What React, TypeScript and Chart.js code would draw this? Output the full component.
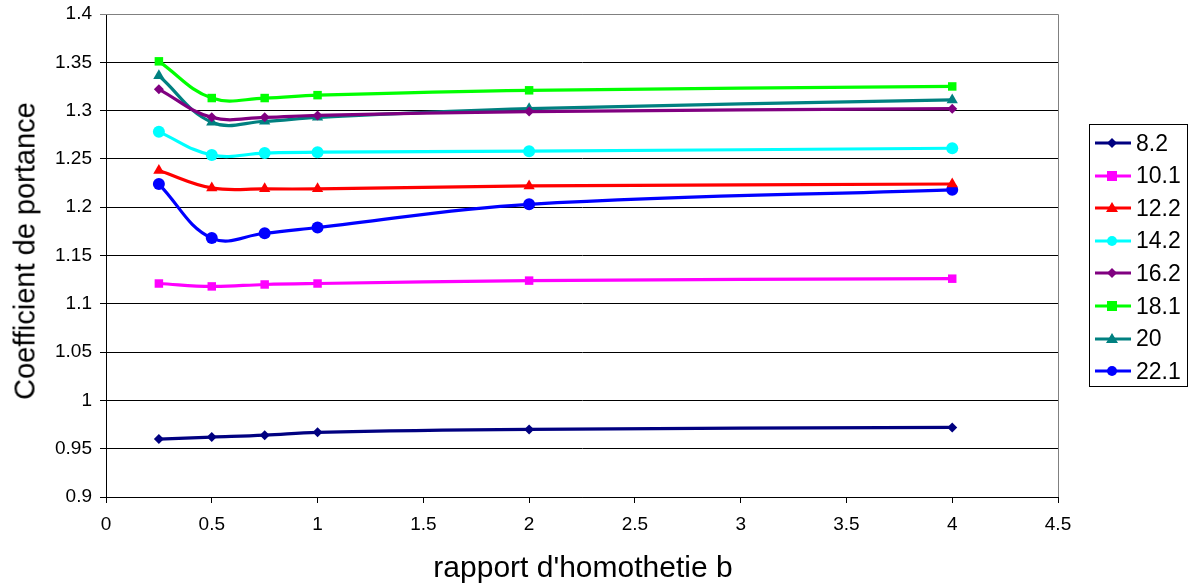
import React, { useEffect, useRef } from "react";
import { Chart, registerables } from "chart.js";

Chart.register(...registerables);

// Homothety ratio b (x values shared by every series)
const ratios = [0.25, 0.5, 0.75, 1, 2, 4];

// Lift coefficient per angle of attack
const seriesNames = ["8.2", "10.1", "12.2", "14.2", "16.2", "18.1", "20", "22.1"];
const s82 = [0.96, 0.962, 0.964, 0.967, 0.97, 0.972];
const s101 = [1.121, 1.118, 1.12, 1.121, 1.124, 1.126];
const s122 = [1.238, 1.22, 1.219, 1.219, 1.222, 1.224];
const s142 = [1.278, 1.254, 1.256, 1.257, 1.258, 1.261];
const s162 = [1.322, 1.293, 1.293, 1.295, 1.299, 1.302];
const s181 = [1.351, 1.313, 1.313, 1.316, 1.321, 1.325];
const s20 = [1.336, 1.288, 1.289, 1.293, 1.302, 1.311];
const s221 = [1.224, 1.168, 1.173, 1.179, 1.203, 1.218];

const seriesValues = [s82, s101, s122, s142, s162, s181, s20, s221];
const seriesColors = ["#000080", "#FF00FF", "#FF0000", "#00FFFF", "#800080", "#00FF00", "#008080", "#0000FF"];
const seriesMarkers = ["rectRot", "rect", "triangle", "circle", "rectRot", "rect", "triangle", "circle"];
const markerRadius: Record<string, number> = { rectRot: 5, rect: 6, triangle: 6.5, circle: 6 };

const FONT = "'Liberation Sans', Arial, Helvetica, sans-serif";

const fmt = (v: number) => String(parseFloat(Number(v).toFixed(2)));

const plotFrame = {
  id: "plotFrame",
  afterDraw(chart: any) {
    const { ctx, chartArea: a } = chart;
    ctx.save();
    ctx.strokeStyle = "#808080";
    ctx.lineWidth = 1;
    ctx.beginPath();
    ctx.moveTo(a.left, a.top + 0.5);
    ctx.lineTo(a.right + 0.5, a.top + 0.5);
    ctx.lineTo(a.right + 0.5, a.bottom);
    ctx.stroke();
    ctx.restore();
  },
};

function LegendMarker({ shape, color }: { shape: string; color: string }) {
  const cx = 17;
  const cy = 8;
  let mark: React.ReactNode = null;
  if (shape === "circle") mark = <circle cx={cx} cy={cy} r={5} fill={color} />;
  else if (shape === "rect") mark = <rect x={cx - 5} y={cy - 5} width={10} height={10} fill={color} />;
  else if (shape === "rectRot")
    mark = <polygon points={`${cx},${cy - 5} ${cx + 5},${cy} ${cx},${cy + 5} ${cx - 5},${cy}`} fill={color} />;
  else mark = <polygon points={`${cx},${cy - 6} ${cx + 6},${cy + 4} ${cx - 6},${cy + 4}`} fill={color} />;
  return (
    <svg width={36} height={16} style={{ display: "block" }}>
      <line x1={0} y1={cy} x2={36} y2={cy} stroke={color} strokeWidth={3} />
      {mark}
    </svg>
  );
}

export default function App() {
  const canvasRef = useRef<HTMLCanvasElement | null>(null);

  useEffect(() => {
    if (!canvasRef.current) return;
    const datasets = seriesNames.map((name, i) => ({
      label: name,
      data: ratios.map((x, j) => ({ x, y: seriesValues[i][j] })),
      borderColor: seriesColors[i],
      backgroundColor: seriesColors[i],
      borderWidth: 3.2,
      tension: 0.4,
      pointStyle: seriesMarkers[i] as any,
      pointRadius: markerRadius[seriesMarkers[i]],
      pointBorderWidth: 0,
      fill: false,
    }));

    const chart = new Chart(canvasRef.current, {
      type: "line",
      data: { datasets },
      plugins: [plotFrame],
      options: {
        animation: false,
        responsive: false,
        devicePixelRatio: 1,
        layout: { padding: { left: 0, top: 14, right: 132, bottom: 0 } },
        plugins: { legend: { display: false }, tooltip: { enabled: false } },
        scales: {
          x: {
            type: "linear",
            min: 0,
            max: 4.5,
            afterFit: (s: any) => {
              s.height = 90;
              s.paddingLeft = 0;
              s.paddingRight = 0;
            },
            ticks: {
              stepSize: 0.5,
              color: "#000",
              font: { family: FONT, size: 19 },
              padding: 10,
              maxRotation: 0,
              callback: (v: any) => fmt(v),
            },
            grid: { drawOnChartArea: false, drawTicks: true, tickLength: 6, color: "#000" },
            border: { color: "#000", width: 1 },
          },
          y: {
            type: "linear",
            min: 0.9,
            max: 1.4,
            afterFit: (s: any) => {
              s.width = 106;
              s.paddingTop = 0;
              s.paddingBottom = 0;
            },
            ticks: {
              stepSize: 0.05,
              color: "#000",
              font: { family: FONT, size: 19 },
              padding: 8,
              callback: (v: any) => fmt(v),
            },
            grid: {
              drawTicks: true,
              tickLength: 6,
              color: (c: any) => (c.tick && Math.abs(c.tick.value - 1.4) < 1e-6 ? "#808080" : "#000"),
            },
            border: { color: "#000", width: 1 },
          },
        },
      },
    });
    return () => chart.destroy();
  }, []);

  return (
    <div style={{ position: "absolute", left: 0, top: 0, width: 1190, height: 587, background: "#fff", fontFamily: FONT }}>
      <canvas ref={canvasRef} width={1190} height={587} style={{ position: "absolute", left: 0, top: 0 }} />
      <div
        style={{
          position: "absolute",
          left: 25,
          top: 251,
          transform: "translate(-50%, -50%) rotate(-90deg)",
          fontSize: 29,
          whiteSpace: "nowrap",
          color: "#000",
        }}
      >
        Coefficient de portance
      </div>
      <div
        style={{
          position: "absolute",
          left: 583,
          top: 567,
          transform: "translate(-50%, -50%)",
          fontSize: 30,
          whiteSpace: "nowrap",
          color: "#000",
        }}
      >
        rapport d'homothetie b
      </div>
      <div
        style={{
          position: "absolute",
          left: 1089,
          top: 124,
          width: 97,
          height: 261,
          border: "1px solid #000",
          boxSizing: "content-box",
        }}
      >
        {seriesNames.map((name, i) => (
          <div
            key={name}
            style={{
              position: "absolute",
              left: 5,
              top: 18 + i * 32.6 - 16,
              height: 32,
              display: "flex",
              alignItems: "center",
              fontSize: 23,
              color: "#000",
            }}
          >
            <LegendMarker shape={seriesMarkers[i]} color={seriesColors[i]} />
            <span style={{ marginLeft: 5 }}>{name}</span>
          </div>
        ))}
      </div>
    </div>
  );
}
